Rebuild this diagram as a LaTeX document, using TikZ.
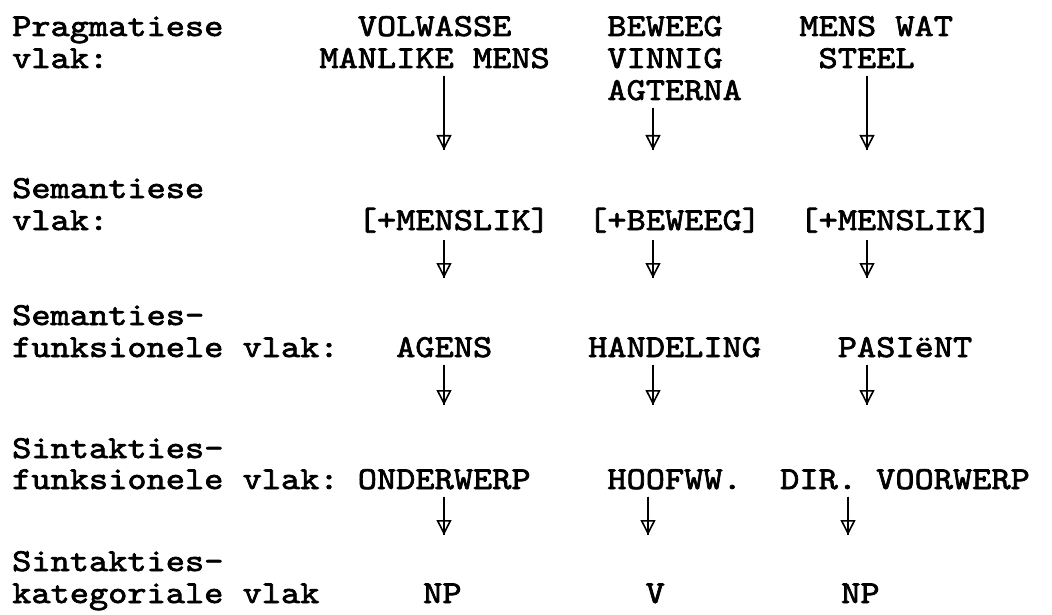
\documentclass[tikz,border=0pt]{standalone}
\usepackage{fontspec}
\newfontfamily\tikfam{lmmono10-regular.otf}[FakeBold=2.2,FakeStretch=1.143]
\usetikzlibrary{arrows.meta}
\newcommand{\tikfont}{\tikfam\fontsize{32}{32}\selectfont}
\tikzset{
  teks/.style={font=\tikfont, inner sep=0pt, anchor=base west},
  pyl/.style={line width=1.6pt, shorten <=7pt,
    -{Triangle[open,length=15pt,width=15pt,line width=1.6pt]}, postaction={draw,-}}
}
\begin{document}
\begin{tikzpicture}[x=1pt,y=-1pt]
\useasboundingbox (0,0) rectangle (1052,615);
% Pragmatiese vlak
\node[teks] (prag1) at (12,36) {Pragmatiese};
\node[teks] (prag2) at (12,68) {vlak:};
\node[teks] (vol1) at (357.6,36) {VOLWASSE};
\node[teks] (vol2) at (319.2,68) {MANLIKE MENS};
\node[teks] (bew1) at (607.2,36) {BEWEEG};
\node[teks] (bew2) at (607.2,68) {VINNIG};
\node[teks] (bew3) at (607.2,100) {AGTERNA};
\node[teks] (ste1) at (799.2,36) {MENS WAT};
\node[teks] (ste2) at (818.4,68) {STEEL};
\coordinate (pa1) at (444,150);
\coordinate (pa2) at (653,150);
\coordinate (pa3) at (867,150);
\draw[pyl] (vol2.south -| pa1) -- (pa1);
\draw[pyl] (bew3.south -| pa2) -- (pa2);
\draw[pyl] (ste2.south -| pa3) -- (pa3);

% Semantiese vlak
\node[teks] (sem1) at (12,198) {Semantiese};
\node[teks] (sem2) at (12,230) {vlak:};
\node[teks] (men1) at (357.6,230) {[+MENSLIK]};
\node[teks] (bwg) at (588,230) {[+BEWEEG]};
\node[teks] (men2) at (799.2,230) {[+MENSLIK]};
\coordinate (sa1) at (444,278);
\coordinate (sa2) at (653,278);
\coordinate (sa3) at (867,278);
\draw[pyl] (men1.south -| sa1) -- (sa1);
\draw[pyl] (bwg.south -| sa2) -- (sa2);
\draw[pyl] (men2.south -| sa3) -- (sa3);

% Semanties-funksionele vlak
\node[teks] (sf1) at (12,325) {Semanties-};
\node[teks] (sf2) at (12,357) {funksionele vlak:};
\node[teks] (agens) at (396,357) {AGENS};
\node[teks] (hand) at (588,357) {HANDELING};
\node[teks] (pas) at (837.6,357) {PASIëNT};
\coordinate (fa1) at (444,405);
\coordinate (fa2) at (653,405);
\coordinate (fa3) at (867,405);
\draw[pyl] (agens.south -| fa1) -- (fa1);
\draw[pyl] (hand.south -| fa2) -- (fa2);
\draw[pyl] (pas.south -| fa3) -- (fa3);

% Sintakties-funksionele vlak
\node[teks] (tf1) at (12,458) {Sintakties-};
\node[teks] (tf2) at (12,489) {funksionele vlak:};
\node[teks] (onder) at (357.6,489) {ONDERWERP};
\node[teks] (hoof) at (607.2,489) {HOOFWW.};
\node[teks] (dir) at (780,489) {DIR. VOORWERP};
\coordinate (ta1) at (444,535);
\coordinate (ta2) at (648,535);
\coordinate (ta3) at (848,535);
\draw[pyl] (onder.south -| ta1) -- (ta1);
\draw[pyl] (hoof.south -| ta2) -- (ta2);
\draw[pyl] (dir.south -| ta3) -- (ta3);

% Sintakties-kategoriale vlak
\node[teks] (tk1) at (12,571) {Sintakties-};
\node[teks] (tk2) at (12,603) {kategoriale vlak};
\node[teks] (np1) at (423,603) {NP};
\node[teks] (vv) at (645.4,603) {V};
\node[teks] (np2) at (841,603) {NP};
\end{tikzpicture}
\end{document}
